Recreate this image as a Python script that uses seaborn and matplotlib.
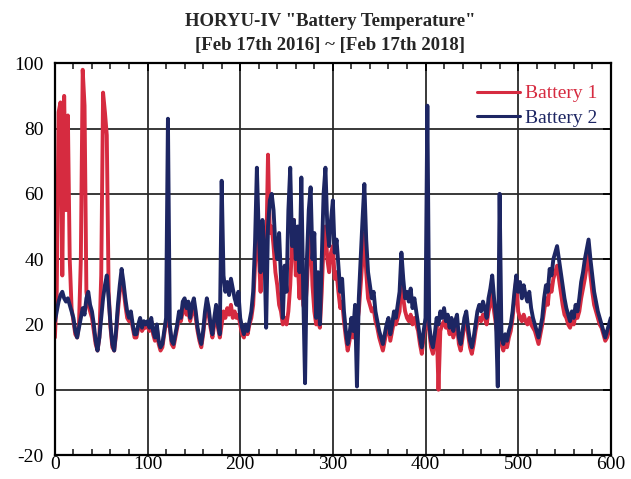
import numpy as np
import pandas as pd
import matplotlib
matplotlib.use("Agg")
import matplotlib.pyplot as plt
import seaborn as sns
from matplotlib.ticker import MultipleLocator

# ---- data (day index every 2 days, temperature in degC) ----
days = np.arange(0, 601, 2)

battery2 = [
    21, 24, 27, 29, 30, 28, 27, 28, 26, 24,
    22, 18, 16, 19, 22, 25, 23, 28, 30, 26,
    24, 20, 15, 12, 16, 22, 28, 32, 35, 28,
    20, 14, 12, 18, 26, 32, 37, 33, 28, 24,
    22, 24, 20, 17, 17, 20, 22, 19, 21, 20,
    21, 19, 22, 18, 16, 20, 15, 13, 14, 18,
    22, 83, 20, 15, 14, 17, 20, 24, 22, 27,
    28, 25, 27, 22, 26, 28, 24, 19, 16, 14,
    18, 24, 28, 25, 20, 17, 22, 26, 20, 17,
    64, 35, 30, 33, 29, 34, 31, 28, 26, 30,
    22, 19, 17, 20, 18, 21, 24, 30, 45, 68,
    48, 36, 52, 44, 19, 50, 58, 60, 55, 44,
    40, 48, 34, 22, 38, 30, 55, 68, 44, 52,
    40, 50, 36, 65, 30, 2, 40, 55, 62, 40,
    48, 22, 36, 20, 40, 60, 68, 50, 44, 52,
    58, 42, 46, 38, 30, 34, 24, 18, 14, 17,
    22, 18, 26, 1, 28, 40, 52, 63, 46, 36,
    32, 28, 30, 24, 21, 18, 16, 14, 17, 20,
    22, 17, 20, 24, 22, 26, 30, 42, 34, 28,
    30, 27, 31, 25, 28, 24, 20, 16, 13, 18,
    22, 87, 20, 15, 13, 17, 22, 20, 24, 22,
    25, 21, 23, 19, 22, 18, 21, 23, 16, 14,
    18, 22, 24, 19, 15, 13, 16, 20, 24, 26,
    24, 27, 25, 22, 28, 31, 35, 28, 22, 1,
    60, 16, 14, 17, 15, 18, 20, 24, 30, 35,
    30, 33, 28, 32, 29, 27, 30, 25, 22, 20,
    18, 16, 19, 22, 28, 32, 30, 37, 35, 40,
    42, 44, 40, 36, 32, 28, 25, 23, 21, 24,
    22, 26, 24, 28, 33, 36, 40, 43, 46, 40,
    35, 30, 27, 24, 22, 20, 18, 16, 18, 20,
    22,
]

battery1 = [
    16, 30, 85, 88, 35, 90, 55, 84, 40, 25,
    21, 17, 16, 20, 40, 98, 87, 30, 26, 24,
    22, 18, 14, 12, 16, 35, 91, 85, 78, 30,
    19, 13, 12, 17, 24, 30, 34, 31, 26, 22,
    21, 22, 19, 16, 16, 19, 21, 18, 19, 19,
    20, 18, 21, 17, 15, 19, 14, 12, 13, 17,
    21, 20, 19, 14, 13, 16, 19, 22, 21, 24,
    25, 23, 24, 21, 24, 25, 22, 18, 15, 13,
    17, 22, 25, 23, 19, 16, 20, 24, 19, 16,
    20, 24, 22, 25, 23, 26, 22, 24, 22, 23,
    20, 17, 16, 19, 17, 20, 22, 26, 38, 55,
    42, 30, 45, 38, 40, 72, 48, 50, 44, 36,
    32, 26, 24, 20, 22, 20, 24, 32, 45, 52,
    35, 40, 28, 48, 26, 24, 32, 44, 48, 32,
    24, 20, 21, 19, 30, 45, 50, 40, 36, 42,
    44, 34, 36, 30, 25, 27, 21, 16, 12, 15,
    20, 16, 22, 20, 24, 32, 40, 48, 36, 28,
    26, 24, 25, 21, 19, 16, 14, 12, 15, 18,
    20, 15, 18, 21, 20, 22, 24, 34, 28, 24,
    22, 21, 23, 20, 22, 20, 18, 14, 11, 16,
    20, 21, 18, 13, 11, 15, 20, 0, 18, 20,
    21, 19, 20, 17, 19, 16, 18, 20, 14, 12,
    16, 20, 21, 17, 13, 11, 14, 18, 21, 22,
    21, 23, 22, 20, 24, 26, 30, 24, 20, 16,
    18, 14, 12, 15, 13, 16, 18, 22, 28, 34,
    24, 22, 21, 23, 21, 20, 22, 20, 19, 18,
    16, 14, 17, 20, 24, 28, 26, 32, 30, 34,
    36, 38, 34, 30, 26, 23, 22, 20, 19, 21,
    20, 23, 22, 24, 28, 31, 34, 38, 42, 35,
    30, 26, 24, 22, 20, 19, 17, 15, 16, 18,
    20,
]

series_names = ["Battery 1", "Battery 2"]
xticks = [0, 100, 200, 300, 400, 500, 600]
yticks = [-20, 0, 20, 40, 60, 80, 100]
title_lines = ['HORYU-IV "Battery Temperature"', '[Feb 17th 2016] ~ [Feb 17th 2018]']

df = pd.concat([
    pd.DataFrame({"day": days, "temp": battery1, "series": series_names[0]}),
    pd.DataFrame({"day": days, "temp": battery2, "series": series_names[1]}),
])

# ---- style ----
sns.set_style("white")
plt.rcParams["font.family"] = ["Liberation Serif", "DejaVu Serif"]
plt.rcParams["axes.unicode_minus"] = False

fig = plt.figure(figsize=(6.31, 4.79), dpi=100)
ax = fig.add_axes([0.087, 0.050, 0.881, 0.818])

palette = {"Battery 1": "#d62b40", "Battery 2": "#1d2663"}
sns.lineplot(data=df, x="day", y="temp", hue="series", palette=palette,
             estimator=None, sort=False, linewidth=2.8, ax=ax)

ax.set_xlim(0, 600)
ax.set_ylim(-20, 100)
ax.set_xticks(xticks)
ax.set_yticks(yticks)
ax.xaxis.set_minor_locator(MultipleLocator(20))
ax.grid(True, which="major", color="#2a2a2a", linewidth=1.3)
ax.set_axisbelow(True)
ax.tick_params(axis="both", which="major", direction="in", length=6, width=1.3,
               top=True, right=True, labelsize=14, colors="black")
ax.tick_params(axis="x", which="major", pad=1)
ax.tick_params(axis="y", which="major", pad=8)
ax.tick_params(axis="x", which="minor", direction="in", length=4, width=1.2,
               top=True, bottom=True)
for s in ax.spines.values():
    s.set_color("black")
    s.set_linewidth(1.6)
ax.set_xlabel("")
ax.set_ylabel("")

fig.text(0.523, 0.955, title_lines[0], ha="center", va="center",
         fontsize=13.5, fontweight="bold")
fig.text(0.523, 0.905, title_lines[1], ha="center", va="center",
         fontsize=13.5, fontweight="bold")

leg = ax.legend(loc="upper right", bbox_to_anchor=(0.99, 0.965), frameon=False,
                fontsize=14, handlelength=2.2, handletextpad=0.25,
                labelspacing=0.35, borderaxespad=0.0, labelcolor="linecolor")
for h in leg.get_lines():
    h.set_linewidth(2.2)

fig.savefig("out.png", dpi=100)
